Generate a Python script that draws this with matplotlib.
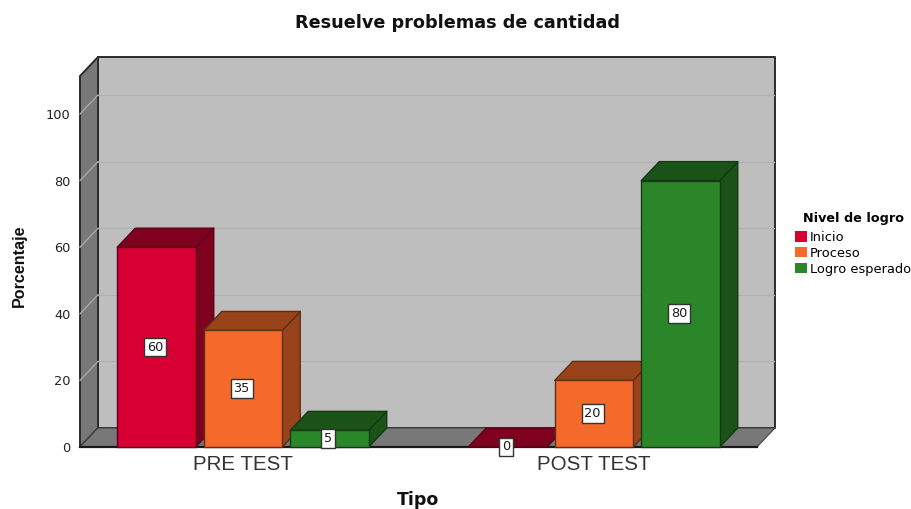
import matplotlib
matplotlib.use("Agg")
import matplotlib.pyplot as plt
from matplotlib.patches import Polygon, Patch

plt.rcParams['font.family'] = ['DejaVu Sans']
NARROW = ['Liberation Sans', 'DejaVu Sans']

categories = ["PRE TEST", "POST TEST"]
levels = ["Inicio", "Proceso", "Logro esperado"]
inicio = [60, 0]
proceso = [35, 20]
logro = [5, 80]
series = [inicio, proceso, logro]
y_ticks = [0, 20, 40, 60, 80, 100]

front_colors = ["#D80032", "#F5692B", "#2A8628"]
dark_colors = ["#800020", "#98431A", "#1A5217"]
edge_colors = ["#5A0018", "#5E2F14", "#143A14"]
EDGE = "#2b2b2b"

W, H = 912, 509
fig = plt.figure(figsize=(W / 100, H / 100), dpi=100, facecolor="white")
L, R, B, T = 80, 757, 447, 76
ax = fig.add_axes([L / W, 1 - B / H, (R - L) / W, (B - T) / H])
UX, UY = 351.0, 3.33
xmin, xmax = -(243 - L) / UX, (R - 243) / UX
ymax = (B - T) / UY
ax.set_xlim(xmin, xmax)
ax.set_ylim(0, ymax)
ax.patch.set_visible(False)

dx, dy = 18 / UX, 19 / UY
bw, step = 78.5 / UX, 86.5 / UX


def poly(pts, fc, ec=EDGE, lw=1.0, z=2):
    ax.add_patch(Polygon(pts, closed=True, facecolor=fc, edgecolor=ec, linewidth=lw,
                         clip_on=False, zorder=z, joinstyle="round"))


# walls
poly([(xmin + dx, dy), (xmax + dx, dy), (xmax + dx, ymax + dy), (xmin + dx, ymax + dy)], "#BEBEBE", lw=1.4, z=1)
poly([(xmin, 0), (xmin + dx, dy), (xmin + dx, ymax + dy), (xmin, ymax)], "#787878", lw=1.4, z=1)
poly([(xmin, 0), (xmin + dx, dy), (xmax + dx, dy), (xmax, 0)], "#787878", ec="#444444", lw=0.8, z=1)
for t in y_ticks[1:]:
    ax.plot([xmin, xmin + dx], [t, t + dy], color="#A8A8A8", lw=1.0, clip_on=False, zorder=1.5)
    ax.plot([xmin + dx, xmax + dx - 0.002], [t + dy, t + dy], color="#B0B0B0", lw=0.9, clip_on=False, zorder=1.5)

# bars
z = 3
for g in range(len(categories)):
    for s, vals in enumerate(series):
        v = vals[g]
        x0 = g + (s - 1) * step - bw / 2
        x1 = x0 + bw
        ec = edge_colors[s]
        poly([(x1, 0), (x1 + dx, dy), (x1 + dx, v + dy), (x1, v)], dark_colors[s], ec=ec, z=z)
        poly([(x0, v), (x1, v), (x1 + dx, v + dy), (x0 + dx, v + dy)], dark_colors[s], ec=ec, z=z)
        if v > 0:
            poly([(x0, 0), (x1, 0), (x1, v), (x0, v)], front_colors[s], ec=ec, z=z)
        z += 0.1

# value labels
for g in range(len(categories)):
    for s, vals in enumerate(series):
        v = vals[g]
        ax.text(g + (s - 1) * step - 0.004, v / 2, str(v), ha="center", va="center", fontsize=9.3,
                color="#1a1a1a", zorder=10, clip_on=False,
                bbox=dict(boxstyle="square,pad=0.22", facecolor="white", edgecolor="#333333", linewidth=1.0))

# axes
for side in ("top", "right", "left"):
    ax.spines[side].set_visible(False)
ax.spines["bottom"].set_color("#1a1a1a")
ax.spines["bottom"].set_linewidth(1.6)
ax.spines["bottom"].set_zorder(2.5)
ax.set_yticks(y_ticks)
ax.set_xticks(range(len(categories)))
ax.set_xticklabels(categories, fontsize=14.8, color="#333333", family=NARROW)
ax.tick_params(axis="y", length=0, pad=7, labelsize=9.3, labelcolor="#222222")
ax.tick_params(axis="x", length=0, pad=5.5)

fig.text(458 / W, 1 - 23 / H, "Resuelve problemas de cantidad", ha="center", va="center",
         fontsize=12.7, fontweight="bold", color="#111111")
fig.text(418 / W, 1 - 500 / H, "Tipo", ha="center", va="center", fontsize=12.5, fontweight="bold", color="#111111")
fig.text(19 / W, 1 - 266 / H, "Porcentaje", ha="center", va="center", rotation=90,
         fontsize=11.6, fontweight="bold", color="#111111", family=NARROW)

handles = [Patch(facecolor=c, edgecolor="none") for c in front_colors]
leg = fig.legend(handles, levels, title="Nivel de logro", loc="upper left",
                 bbox_to_anchor=(792 / W, 1 - 209 / H), frameon=False, fontsize=9.4,
                 title_fontproperties={"weight": "bold", "size": 9.2},
                 handlelength=0.9, handleheight=0.85, handletextpad=0.2, labelspacing=0.22,
                 borderpad=0.25, borderaxespad=0, alignment="center")
leg._legend_box.sep = 4
fig.savefig("out.png", dpi=100)
